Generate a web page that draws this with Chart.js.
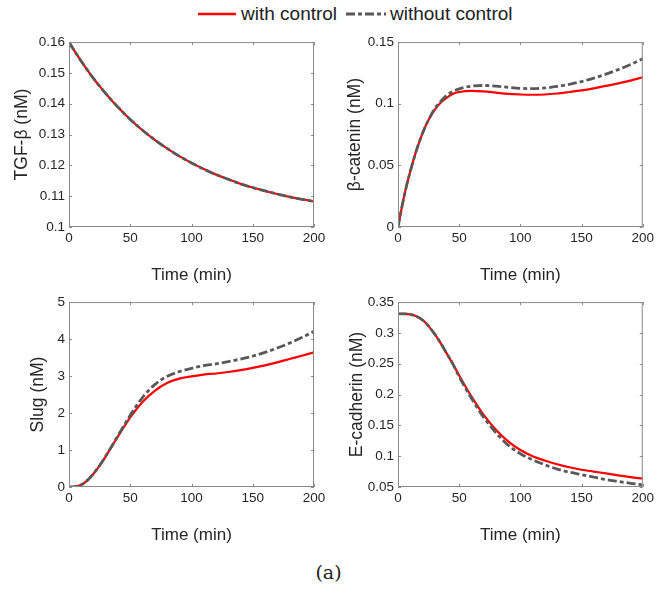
<!DOCTYPE html>
<html>
<head>
<meta charset="utf-8">
<script src="https://cdn.jsdelivr.net/npm/chart.js@4/dist/chart.umd.min.js"></script>
<style>
  body { margin: 0; background: #fff; width: 657px; height: 589px; position: relative; overflow: hidden; }
  .panel { position: absolute; }
  .txt { position: absolute; font-family: "Liberation Sans", Arial, sans-serif; color: #222; white-space: nowrap; }
</style>
</head>
<body>
<svg style="position:absolute;left:198px;top:8px" width="40" height="12"><line x1="0" y1="6" x2="38" y2="6" stroke="#ff0000" stroke-width="2.5"/></svg>
<div class="txt" style="left:241px;top:3px;font-size:19px">with control</div>
<svg style="position:absolute;left:346px;top:8px" width="42" height="12"><line x1="0" y1="6" x2="40" y2="6" stroke="#595959" stroke-width="2.8" stroke-dasharray="9 3 4 3"/></svg>
<div class="txt" style="left:390px;top:3px;font-size:19px">without control</div>

<canvas id="c1" class="panel" style="left:0px;top:30px" width="330" height="260"></canvas>
<canvas id="c2" class="panel" style="left:330px;top:30px" width="327" height="260"></canvas>
<canvas id="c3" class="panel" style="left:0px;top:290px" width="330" height="260"></canvas>
<canvas id="c4" class="panel" style="left:330px;top:290px" width="327" height="260"></canvas>

<div class="txt" style="left:0;width:657px;top:561px;text-align:center;font-family:'DejaVu Serif',serif;font-size:19px">(a)</div>

<script>
const time = [0, 5, 10, 15, 20, 25, 30, 35, 40, 45, 50, 60, 70, 80, 90, 100, 110, 120, 130, 140, 150, 160, 170, 180, 190, 200]

const tgfWith = [0.1600, 0.1568, 0.1538, 0.1509, 0.1482, 0.1457, 0.1433, 0.1410, 0.1389, 0.1368, 0.1349, 0.1314, 0.1283, 0.1255, 0.1230, 0.1208, 0.1188, 0.1170, 0.1155, 0.1140, 0.1128, 0.1117, 0.1107, 0.1098, 0.1090, 0.1083]
const tgfWithout = [0.1600, 0.1568, 0.1538, 0.1509, 0.1482, 0.1457, 0.1433, 0.1410, 0.1389, 0.1368, 0.1349, 0.1314, 0.1283, 0.1255, 0.1230, 0.1208, 0.1188, 0.1170, 0.1155, 0.1140, 0.1128, 0.1117, 0.1107, 0.1098, 0.1090, 0.1083]

const betaWith = [0, 0.025, 0.045, 0.062, 0.076, 0.087, 0.095, 0.101, 0.105, 0.108, 0.1095, 0.1105, 0.1100, 0.1090, 0.1080, 0.1075, 0.1073, 0.1075, 0.1083, 0.1095, 0.1108, 0.1125, 0.1145, 0.1165, 0.1188, 0.1215]
const betaWithout = [0, 0.025, 0.045, 0.062, 0.076, 0.087, 0.096, 0.102, 0.107, 0.110, 0.112, 0.1143, 0.1148, 0.1143, 0.1133, 0.1125, 0.1123, 0.1128, 0.1140, 0.1158, 0.1180, 0.1208, 0.1240, 0.1277, 0.1318, 0.1365]

const slugWith = [0, 0.01, 0.06, 0.18, 0.36, 0.58, 0.83, 1.10, 1.37, 1.63, 1.88, 2.30, 2.60, 2.81, 2.93, 2.99, 3.04, 3.07, 3.11, 3.16, 3.22, 3.29, 3.37, 3.46, 3.55, 3.64]
const slugWithout = [0, 0.01, 0.06, 0.18, 0.36, 0.58, 0.84, 1.11, 1.39, 1.67, 1.94, 2.42, 2.77, 2.99, 3.12, 3.21, 3.28, 3.33, 3.39, 3.46, 3.54, 3.64, 3.76, 3.89, 4.04, 4.21]

const ecadWith = [0.331, 0.331, 0.330, 0.327, 0.321, 0.311, 0.298, 0.283, 0.266, 0.249, 0.231, 0.197, 0.167, 0.143, 0.124, 0.110, 0.100, 0.093, 0.087, 0.082, 0.078, 0.075, 0.072, 0.069, 0.066, 0.0635]
const ecadWithout = [0.331, 0.331, 0.330, 0.327, 0.321, 0.311, 0.298, 0.283, 0.266, 0.249, 0.229, 0.194, 0.163, 0.138, 0.118, 0.104, 0.094, 0.086, 0.079, 0.074, 0.070, 0.066, 0.062, 0.059, 0.056, 0.0535]

const xTicks = [0, 50, 100, 150, 200]

const font = 'Liberation Sans, Arial, sans-serif'
const textColor = '#262626'
const boxColor = '#8a8a8a'

// matlab style box with inward ticks on all four sides
const boxPlugin = {
  id: 'box',
  afterDraw (chart) {
    const { ctx, chartArea: a, scales } = chart
    const len = 3
    ctx.save()
    ctx.strokeStyle = boxColor
    ctx.lineWidth = 1
    ctx.strokeRect(a.left + 0.5, a.top + 0.5, a.right - a.left - 1, a.bottom - a.top - 1)
    ctx.beginPath()
    scales.x.ticks.forEach(t => {
      const px = Math.round(scales.x.getPixelForValue(t.value)) + 0.5
      ctx.moveTo(px, a.bottom); ctx.lineTo(px, a.bottom - len)
      ctx.moveTo(px, a.top); ctx.lineTo(px, a.top + len)
    })
    scales.y.ticks.forEach(t => {
      const py = Math.round(scales.y.getPixelForValue(t.value)) + 0.5
      ctx.moveTo(a.left, py); ctx.lineTo(a.left + len, py)
      ctx.moveTo(a.right, py); ctx.lineTo(a.right - len, py)
    })
    ctx.stroke()
    ctx.restore()
  }
}

const series = values => values.map((v, i) => ({ x: time[i], y: v }))

function panel (id, opts) {
  new Chart(document.getElementById(id).getContext('2d'), {
    type: 'line',
    data: {
      datasets: [{
        label: 'without control',
        data: series(opts.without),
        borderColor: '#595959',
        borderWidth: 2.8,
        borderDash: [9, 3, 4, 3],
        pointRadius: 0,
        cubicInterpolationMode: 'monotone'
      }, {
        label: 'with control',
        data: series(opts.with),
        borderColor: '#ff0000',
        borderWidth: 2.2,
        pointRadius: 0,
        cubicInterpolationMode: 'monotone'
      }]
    },
    options: {
      responsive: false,
      animation: false,
      layout: { padding: { top: opts.top, right: opts.right, left: 0, bottom: 0 } },
      plugins: { legend: { display: false }, tooltip: { enabled: false } },
      scales: {
        x: {
          type: 'linear',
          min: 0,
          max: 200,
          afterBuildTicks: scale => { scale.ticks = xTicks.map(v => ({ value: v })) },
          afterFit: scale => { scale.height = 63 },
          grid: { display: false, drawTicks: false },
          border: { display: false },
          ticks: { color: textColor, font: { family: font, size: 13.5 }, padding: 3, maxRotation: 0 },
          title: { display: true, text: 'Time (min)', color: textColor, font: { family: font, size: 17 }, padding: { top: opts.xPad } }
        },
        y: {
          min: opts.min,
          max: opts.max,
          afterBuildTicks: scale => { scale.ticks = opts.ticks.map(v => ({ value: v })) },
          afterFit: scale => { scale.width = opts.yWidth },
          grid: { display: false, drawTicks: false },
          border: { display: false },
          ticks: { color: textColor, font: { family: font, size: 13.5 }, padding: 4, callback: v => String(v) },
          title: { display: true, text: opts.title, color: textColor, font: { family: font, size: 17.5 }, padding: { top: opts.yPad } }
        }
      }
    },
    plugins: [boxPlugin]
  })
}

panel('c1', { with: tgfWith, without: tgfWithout, title: 'TGF-β (nM)', min: 0.1, max: 0.16,
  ticks: [0.1, 0.11, 0.12, 0.13, 0.14, 0.15, 0.16], top: 9, right: 16, yWidth: 69, yPad: 11.5, xPad: 21.8 })
panel('c2', { with: betaWith, without: betaWithout, title: 'β-catenin (nM)', min: 0, max: 0.15,
  ticks: [0, 0.05, 0.1, 0.15], top: 8, right: 14, yWidth: 68, yPad: 15, xPad: 21.8 })
panel('c3', { with: slugWith, without: slugWithout, title: 'Slug (nM)', min: 0, max: 5,
  ticks: [0, 1, 2, 3, 4, 5], top: 9, right: 16, yWidth: 69, yPad: 28, xPad: 19.8 })
panel('c4', { with: ecadWith, without: ecadWithout, title: 'E-cadherin (nM)', min: 0.05, max: 0.35,
  ticks: [0.05, 0.1, 0.15, 0.2, 0.25, 0.3, 0.35], top: 9, right: 14, yWidth: 68, yPad: 17, xPad: 19.8 })
</script>
</body>
</html>
